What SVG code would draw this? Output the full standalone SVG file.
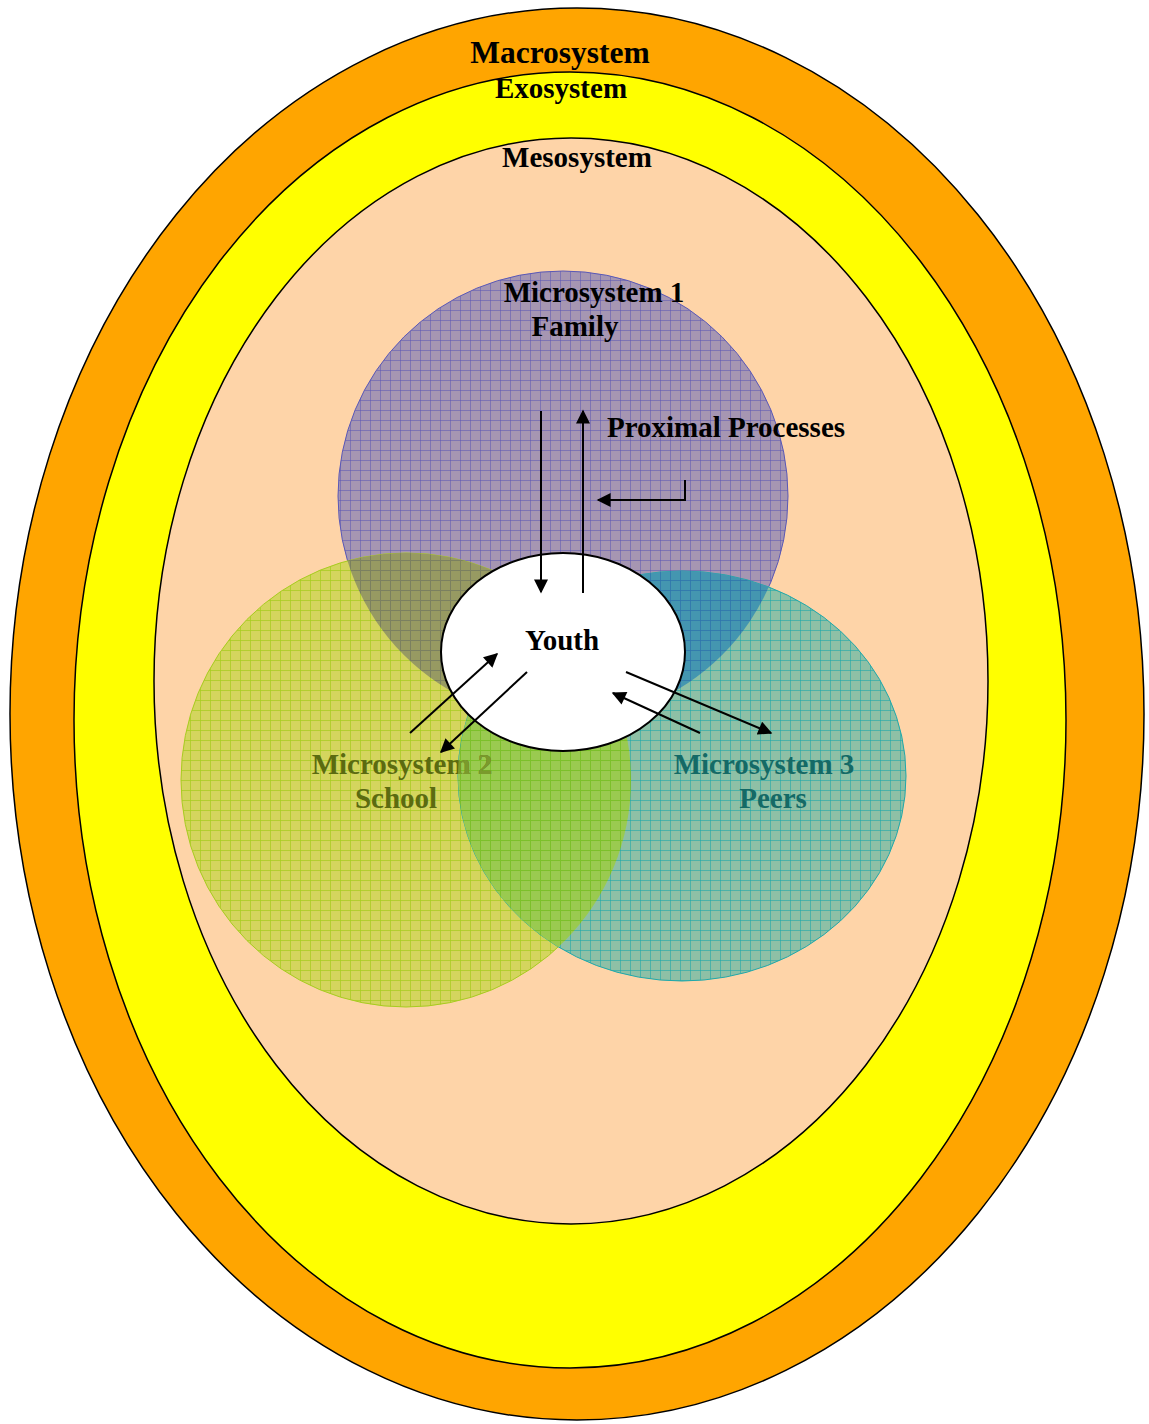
<svg xmlns="http://www.w3.org/2000/svg" width="1149" height="1424" viewBox="0 0 1149 1424">
<style>
.t{font-family:"Liberation Serif","Times New Roman",serif;font-weight:bold;font-size:29px;text-anchor:middle;fill:#000}
.ring{stroke:#000;stroke-width:1.5}
.ln{stroke:#000;stroke-width:2;fill:none;marker-end:url(#ah)}
</style>
<defs>
<marker id="ah" viewBox="0 0 10 10" refX="9" refY="5" markerWidth="7.5" markerHeight="7" markerUnits="strokeWidth" orient="auto">
<path d="M0 0L10 5L0 10z" fill="#000"/>
</marker>
<pattern id="pFam" width="10" height="10" patternUnits="userSpaceOnUse">
<rect width="10" height="10" fill="#a696b2"/><path d="M0 0.5H10M0.5 0V10" stroke="#5c58b4" stroke-opacity="0.55" stroke-width="1"/>
</pattern>
<pattern id="pSch" width="10" height="10" patternUnits="userSpaceOnUse">
<rect width="10" height="10" fill="#d4d55e"/><path d="M0 0.5H10M0.5 0V10" stroke="#a8cc20" stroke-opacity="0.75" stroke-width="1"/>
</pattern>
<pattern id="pPeer" width="10" height="10" patternUnits="userSpaceOnUse">
<rect width="10" height="10" fill="#8ec0a6"/><path d="M0 0.5H10M0.5 0V10" stroke="#20a8aa" stroke-opacity="0.6" stroke-width="1"/>
</pattern>
<pattern id="pSF" width="10" height="10" patternUnits="userSpaceOnUse">
<rect width="10" height="10" fill="#979a62"/><path d="M0 0.5H10M0.5 0V10" stroke="#7b8060" stroke-width="1"/>
</pattern>
<pattern id="pPF" width="10" height="10" patternUnits="userSpaceOnUse">
<rect width="10" height="10" fill="#4496b0"/><path d="M0 0.5H10M0.5 0V10" stroke="#2e74ac" stroke-opacity="0.8" stroke-width="1"/>
</pattern>
<pattern id="pSP" width="10" height="10" patternUnits="userSpaceOnUse">
<rect width="10" height="10" fill="#9aca50"/><path d="M0 0.5H10M0.5 0V10" stroke="#7cc02a" stroke-width="1"/>
</pattern>
<clipPath id="cFam"><circle cx="563" cy="496" r="225"/></clipPath>
<clipPath id="cPeer"><ellipse cx="682" cy="776" rx="224" ry="205"/></clipPath>
</defs>

<g id="macrosystem">
<ellipse class="ring" cx="577" cy="714" rx="567" ry="706" fill="#ffa500"/>
<text class="t" x="560" y="63" style="font-size:31.5px">Macrosystem</text>
</g>
<g id="exosystem">
<ellipse class="ring" cx="570" cy="720" rx="496" ry="648" fill="#ffff00"/>
<text class="t" x="561" y="98">Exosystem</text>
</g>
<g id="mesosystem">
<ellipse class="ring" cx="571" cy="681" rx="417" ry="543" fill="#fed4a8"/>
<text class="t" x="577" y="167">Mesosystem</text>
</g>

<g id="family">
<circle cx="563" cy="496" r="225" fill="url(#pFam)" stroke="#5a58b6" stroke-width="1"/>
<text class="t" x="594" y="302">Microsystem 1</text>
<text class="t" x="575" y="336">Family</text>
</g>

<g id="school">
<ellipse cx="406" cy="780" rx="225" ry="227" fill="url(#pSch)" stroke="#a8cc20" stroke-width="1"/>
<ellipse cx="406" cy="780" rx="225" ry="227" fill="url(#pSF)" clip-path="url(#cFam)"/>
</g>

<g id="peers">
<ellipse cx="682" cy="776" rx="224" ry="205" fill="url(#pPeer)" stroke="#20a8aa" stroke-width="1"/>
<ellipse cx="682" cy="776" rx="224" ry="205" fill="url(#pPF)" clip-path="url(#cFam)"/>
<ellipse cx="406" cy="780" rx="225" ry="227" fill="url(#pSP)" clip-path="url(#cPeer)"/>
</g>

<g id="school-label">
<text class="t" x="402" y="774" style="fill:#5b6b10">Microsystem 2</text>
<text class="t" x="396" y="808" style="fill:#5b6b10">School</text>
<g clip-path="url(#cPeer)"><text class="t" x="402" y="774" style="fill:#7a9a2c">Microsystem 2</text></g>
</g>
<g id="peers-label">
<text class="t" x="764" y="774" style="fill:#146a66">Microsystem 3</text>
<text class="t" x="773" y="808" style="fill:#146a66">Peers</text>
</g>

<g id="youth">
<ellipse cx="563" cy="652" rx="122" ry="99" fill="#fff" stroke="#000" stroke-width="2"/>
<text class="t" x="562" y="650">Youth</text>
</g>

<g id="proximal-label">
<text class="t" x="726" y="437">Proximal Processes</text>
</g>

<g id="connectors">
<line class="ln" x1="541" y1="411" x2="541" y2="592"/>
<line class="ln" x1="583" y1="593" x2="583" y2="411"/>
<polyline class="ln" points="685,480 685,500 598,500"/>
<line class="ln" x1="410" y1="733" x2="497" y2="654"/>
<line class="ln" x1="527" y1="672" x2="441" y2="752"/>
<line class="ln" x1="626" y1="672" x2="771" y2="733"/>
<line class="ln" x1="700" y1="733" x2="613" y2="693"/>
</g>
</svg>
